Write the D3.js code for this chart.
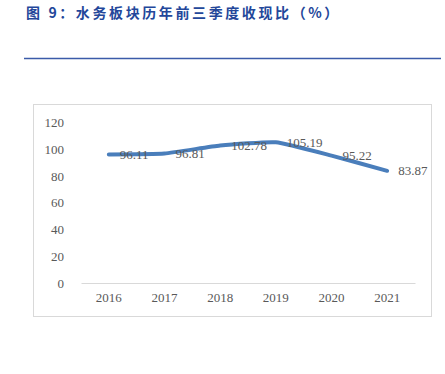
<!DOCTYPE html>
<html>
<head>
<meta charset="utf-8">
<script src="https://cdn.jsdelivr.net/npm/d3@7"></script>
<style>
  body { margin: 0; background: #fff; }
</style>
</head>
<body>
<script>
// chart data
var years = ['2016', '2017', '2018', '2019', '2020', '2021'];
var ratio = [96.11, 96.81, 102.78, 105.19, 95.22, 83.87];
var yTicks = [0, 20, 40, 60, 80, 100, 120];

var W = 445, H = 374;

var svg = d3.select('body').append('svg')
  .attr('width', W)
  .attr('height', H);

// title
svg.append('text')
  .attr('x', 26)
  .attr('y', 18)
  .attr('fill', '#23479a')
  .attr('font-family', 'Noto Sans CJK SC')
  .attr('font-weight', 'bold')
  .attr('font-size', 14)
  .attr('letter-spacing', 2.6)
  .text('图 9：水务板块历年前三季度收现比（%）');

svg.append('line')
  .attr('x1', 24).attr('x2', 441)
  .attr('y1', 58.5).attr('y2', 58.5)
  .attr('stroke', '#3b5ba9')
  .attr('stroke-width', 1.5);

// chart frame
svg.append('rect')
  .attr('x', 33.5).attr('y', 104.5)
  .attr('width', 398).attr('height', 212)
  .attr('fill', 'none')
  .attr('stroke', '#d9d9d9')
  .attr('stroke-width', 1);

var x = d3.scaleBand().domain(years).range([81, 415]);
var y = d3.scaleLinear().domain([0, 120]).range([283, 122.5]);

var font = 'Liberation Serif';
var grey = '#595959';

// y axis labels
var yAxis = d3.axisLeft(y).tickValues(yTicks).tickSize(0).tickPadding(0);
var gy = svg.append('g').attr('transform', 'translate(64,0)').call(yAxis);
gy.select('.domain').remove();
gy.selectAll('text')
  .attr('font-family', font)
  .attr('font-size', 13)
  .attr('fill', grey);

// x axis
var xAxis = d3.axisBottom(x).tickSize(0).tickPadding(10);
var gx = svg.append('g').attr('transform', 'translate(0,' + y(0) + ')').call(xAxis);
gx.select('.domain').attr('stroke', '#d9d9d9');
gx.selectAll('text')
  .attr('font-family', font)
  .attr('font-size', 13)
  .attr('fill', grey);

// line
var line = d3.line()
  .x(function(d, i) { return x(years[i]) + x.bandwidth() / 2; })
  .y(function(d) { return y(d); })
  .curve(d3.curveCardinal.tension(0.55));

svg.append('path')
  .datum(ratio)
  .attr('d', line)
  .attr('fill', 'none')
  .attr('stroke', '#4a7ebb')
  .attr('stroke-width', 4)
  .attr('stroke-linecap', 'round');

// data labels
svg.selectAll('.lbl')
  .data(ratio)
  .enter()
  .append('text')
  .attr('class', 'lbl')
  .attr('x', function(d, i) { return x(years[i]) + x.bandwidth() / 2 + 11; })
  .attr('y', function(d) { return y(d); })
  .attr('dy', '0.35em')
  .attr('font-family', font)
  .attr('font-size', 13)
  .attr('fill', grey)
  .text(function(d) { return d.toFixed(2); });
</script>
</body>
</html>
